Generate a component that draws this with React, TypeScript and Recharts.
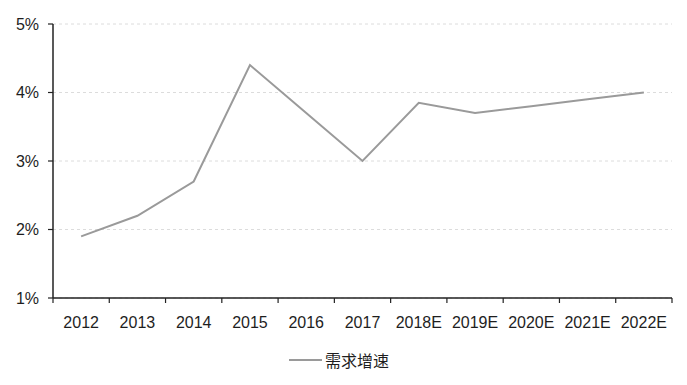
import { LineChart, Line, XAxis, YAxis, CartesianGrid, Legend } from 'recharts'

const years = ['2012', '2013', '2014', '2015', '2016', '2017', '2018E', '2019E', '2020E', '2021E', '2022E']
const growth = [1.9, 2.2, 2.7, 4.4, 3.7, 3.0, 3.85, 3.7, 3.8, 3.9, 4.0]
const yTicks = [1, 2, 3, 4, 5]
const seriesName = '需求增速'

const data = years.map((year, i) => ({ year, growth: growth[i] }))

const W = 687
const H = 385
const margin = { top: 24, right: 15, left: 0, bottom: 37 }
const yAxisWidth = 53
const plotWidth = W - margin.left - margin.right - yAxisWidth
const step = plotWidth / years.length

const font = 'Arial, "Liberation Sans", sans-serif'
const textColor = '#1e1e1e'

function XTick(props: any) {
  const { x, y, payload, index } = props
  const left = x - step / 2
  return (
    <g>
      <line x1={left} y1={y - 8} x2={left} y2={y - 3} stroke="#222" strokeWidth={1.2} />
      {index === years.length - 1 && (
        <line x1={x + step / 2} y1={y - 8} x2={x + step / 2} y2={y - 3} stroke="#222" strokeWidth={1.2} />
      )}
      <text x={x} y={y + 22} textAnchor="middle" fill={textColor} fontSize={16} fontFamily={font}>
        {payload.value}
      </text>
    </g>
  )
}

function LegendContent() {
  return (
    <div style={{ display: 'flex', justifyContent: 'center', alignItems: 'center', paddingRight: 9, fontSize: 16, color: textColor }}>
      <svg width={33} height={10} style={{ marginRight: 3 }}>
        <line x1={0} y1={5} x2={33} y2={5} stroke="#9a9a9a" strokeWidth={2} />
      </svg>
      <span style={{ fontFamily: '"Noto Sans CJK SC", sans-serif', lineHeight: '20px' }}>{seriesName}</span>
    </div>
  )
}

export default function App() {
  return (
    <div style={{ position: 'absolute', left: 0, top: 0, background: '#fff' }}>
      <LineChart width={W} height={H} data={data} margin={margin}>
        <CartesianGrid vertical={false} stroke="#dcdcdc" strokeDasharray="3 3" />
        <XAxis
          dataKey="year"
          scale="band"
          interval={0}
          axisLine={{ stroke: '#222', strokeWidth: 1.5 }}
          tickLine={false}
          tick={<XTick />}
          height={30}
        />
        <YAxis
          domain={[1, 5]}
          ticks={yTicks}
          width={yAxisWidth}
          axisLine={{ stroke: '#222', strokeWidth: 1.5 }}
          tickLine={{ stroke: '#222', strokeWidth: 1.2 }}
          tickSize={5}
          tickFormatter={(v: number) => `${v}%`}
          tick={{ fill: textColor, fontSize: 16, fontFamily: font, dx: -7 }}
        />
        <Legend verticalAlign="bottom" content={<LegendContent />} wrapperStyle={{ top: 350, left: 0, width: W, height: 20 }} />
        <Line
          type="linear"
          dataKey="growth"
          name={seriesName}
          stroke="#9a9a9a"
          strokeWidth={2}
          dot={false}
          isAnimationActive={false}
        />
      </LineChart>
    </div>
  )
}
